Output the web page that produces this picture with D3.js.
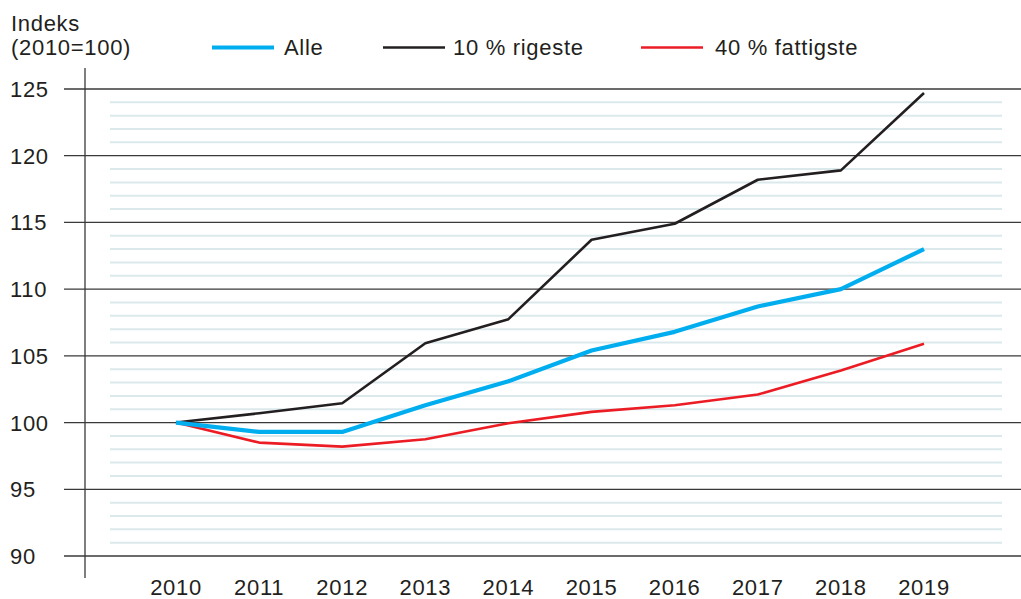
<!DOCTYPE html>
<html><head><meta charset="utf-8">
<script src="https://cdn.jsdelivr.net/npm/d3@7"></script>
<style>
html,body{margin:0;padding:0;background:#fff;}
text{font-family:"Liberation Sans",Arial,Helvetica,sans-serif;font-size:22px;fill:#231f20;letter-spacing:0.7px;}
</style></head>
<body>
<svg id="c" width="1021" height="599"></svg>
<script>
const years = [2010, 2011, 2012, 2013, 2014, 2015, 2016, 2017, 2018, 2019];
const alle = [100, 99.3, 99.3, 101.3, 103.1, 105.4, 106.8, 108.7, 110.0, 113.0];
const rigeste = [100, 100.7, 101.45, 105.95, 107.75, 113.7, 114.9, 118.2, 118.9, 124.7];
const fattigste = [100, 98.5, 98.2, 98.75, 99.95, 100.8, 101.3, 102.1, 103.9, 105.9];
const yTicks = [90, 95, 100, 105, 110, 115, 120, 125];
const seriesNames = ["Alle", "10 % rigeste", "40 % fattigste"];

const svg = d3.select("#c");
const x = d3.scaleLinear().domain([2010, 2019]).range([176, 924]);
const y = d3.scaleLinear().domain([90, 125]).range([556, 89]);

// minor gridlines
const minor = d3.range(90, 125, 1).filter(v => v % 5 !== 0);
svg.append("g").selectAll("line").data(minor).join("line")
  .attr("x1", 110).attr("x2", 1002)
  .attr("y1", d => y(d)).attr("y2", d => y(d))
  .attr("stroke", "#dce9ec").attr("stroke-width", 2);

// major gridlines
svg.append("g").selectAll("line").data(yTicks).join("line")
  .attr("x1", 64).attr("x2", 1021)
  .attr("y1", d => y(d)).attr("y2", d => y(d))
  .attr("stroke", "#3a3a3a").attr("stroke-width", 1.3);

// y axis line
svg.append("line").attr("x1", 85).attr("x2", 85).attr("y1", 68).attr("y2", 578)
  .attr("stroke", "#3a3a3a").attr("stroke-width", 1.3);

// y tick labels
svg.append("g").selectAll("text").data(yTicks).join("text")
  .attr("x", 10).attr("y", d => y(d) + 8).text(d => d);

// x labels
svg.append("g").selectAll("text").data(years).join("text")
  .attr("x", d => x(d)).attr("y", 595).attr("text-anchor", "middle").text(d => d);

// title
svg.append("text").attr("x", 11).attr("y", 31).text("Indeks");
svg.append("text").attr("x", 11).attr("y", 55).text("(2010=100)");

const line = d3.line().x((d, i) => x(years[i])).y(d => y(d));
const series = [
  {name: seriesNames[0], vals: alle, color: "#00aeef", w: 4.2},
  {name: seriesNames[1], vals: rigeste, color: "#231f20", w: 2.6},
  {name: seriesNames[2], vals: fattigste, color: "#ec1c24", w: 2.6}
];
// draw order: black, red, blue on top
[series[1], series[2], series[0]].forEach(s => {
  svg.append("path").datum(s.vals).attr("d", line)
    .attr("fill", "none").attr("stroke", s.color).attr("stroke-width", s.w)
    .attr("stroke-linejoin", "round");
});

// legend
const leg = [
  {s: series[0], x1: 212, x2: 274, tx: 284},
  {s: series[1], x1: 383, x2: 445, tx: 453},
  {s: series[2], x1: 641, x2: 703, tx: 715}
];
leg.forEach(l => {
  svg.append("line").attr("x1", l.x1).attr("x2", l.x2).attr("y1", 47.5).attr("y2", 47.5)
    .attr("stroke", l.s.color).attr("stroke-width", l.s.w);
  svg.append("text").attr("x", l.tx).attr("y", 55).text(l.s.name);
});
</script>
</body></html>
